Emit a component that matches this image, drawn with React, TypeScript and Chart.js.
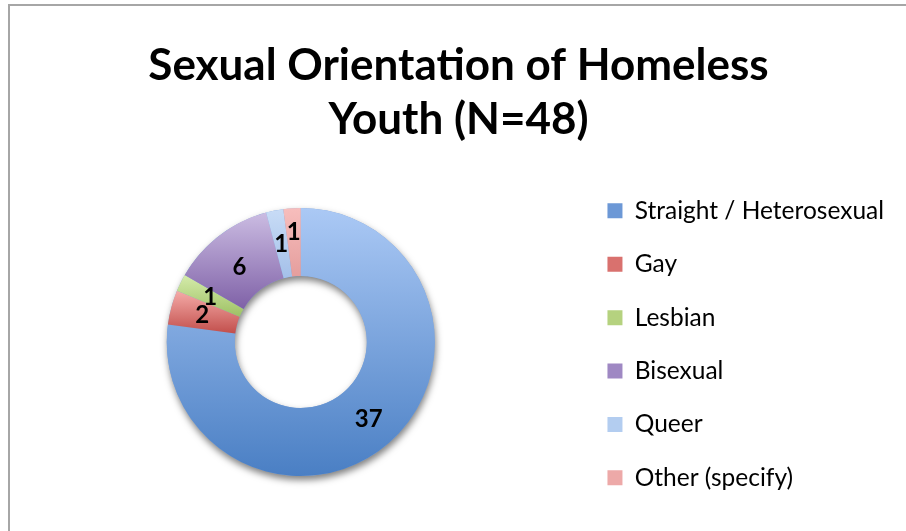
import { useEffect, useRef } from "react";
import { Chart, registerables } from "chart.js";

Chart.register(...registerables);

const categories = [
  "Straight / Heterosexual",
  "Gay",
  "Lesbian",
  "Bisexual",
  "Queer",
  "Other (specify)",
];
const counts = [37, 2, 1, 6, 1, 1];
const titleLines = ["Sexual Orientation of Homeless", "Youth (N=48)"];

const lightColors = ["#abc9f5", "#f5aca9", "#d5ebab", "#cbbce2", "#c8dcf6", "#f7bebd"];
const darkColors = ["#4a7fc4", "#c24f4c", "#9ec164", "#7f61a7", "#a4c0e9", "#e59e9d"];
const legendColors = ["#6c98d6", "#d9716e", "#b5d27f", "#9f88c3", "#b3cdf0", "#eda9a8"];

const labelAngleNudge = [0, 0, 0, -0.03, 0, 0];
const labelRadiusNudge = [3, 2, 1, -3, 0, 10];

const OUTER = 134;
const CUTOUT = "49.3%";

function sliceGradient(context: any) {
  const chart = context.chart;
  const i = context.dataIndex ?? 0;
  const area = chart.chartArea;
  if (!area || context.type !== "data") return legendColors[i];
  const total = counts.reduce((a, b) => a + b, 0);
  let before = 0;
  for (let k = 0; k < i; k++) before += counts[k];
  const start = -Math.PI / 2 + (before / total) * Math.PI * 2;
  const end = start + (counts[i] / total) * Math.PI * 2;
  const cy = (area.top + area.bottom) / 2;
  const inner = OUTER * 0.493;
  let top = Infinity;
  let bottom = -Infinity;
  for (let s = 0; s <= 48; s++) {
    const a = start + ((end - start) * s) / 48;
    for (const r of [OUTER, inner]) {
      const y = cy + Math.sin(a) * r;
      top = Math.min(top, y);
      bottom = Math.max(bottom, y);
    }
  }
  const g = chart.ctx.createLinearGradient(0, top, 0, bottom);
  g.addColorStop(0, lightColors[i]);
  g.addColorStop(1, darkColors[i]);
  return g;
}

const ringShadow = {
  id: "ringShadow",
  beforeDatasetsDraw(chart: any) {
    const meta = chart.getDatasetMeta(0);
    const arc = meta.data[0];
    if (!arc) return;
    const { x, y, outerRadius, innerRadius } = arc;
    const c = chart.ctx;
    c.save();
    c.shadowColor = "rgba(0,0,0,0.5)";
    c.shadowBlur = 7;
    c.shadowOffsetX = 1;
    c.shadowOffsetY = 4;
    c.beginPath();
    c.arc(x, y, outerRadius, 0, Math.PI * 2);
    c.arc(x, y, innerRadius, Math.PI * 2, 0, true);
    c.closePath();
    c.fillStyle = "#7fa3d8";
    c.fill();
    c.restore();
  },
};

const sliceLabels = {
  id: "sliceLabels",
  afterDatasetsDraw(chart: any) {
    const meta = chart.getDatasetMeta(0);
    const c = chart.ctx;
    c.save();
    c.font = "bold 24px Lato";
    c.fillStyle = "#000";
    c.textAlign = "center";
    c.textBaseline = "middle";
    meta.data.forEach((arc: any, i: number) => {
      const { x, y, startAngle, endAngle, innerRadius, outerRadius } = arc;
      const mid = (startAngle + endAngle) / 2 + labelAngleNudge[i];
      const r = (innerRadius + outerRadius) / 2 + labelRadiusNudge[i];
      c.fillText(String(counts[i]), x + Math.cos(mid) * r, y + Math.sin(mid) * r);
    });
    c.restore();
  },
};

export default function App() {
  const ref = useRef<HTMLCanvasElement>(null);
  useEffect(() => {
    if (!ref.current) return;
    const chart = new Chart(ref.current, {
      type: "doughnut",
      data: {
        labels: categories,
        datasets: [
          {
            data: counts,
            backgroundColor: sliceGradient as any,
            borderWidth: 0,
          },
        ],
      },
      options: {
        responsive: false,
        animation: false,
        radius: OUTER,
        cutout: CUTOUT,
        layout: { padding: { left: 23, right: 12, top: 0, bottom: 12 } },
        plugins: {
          title: {
            display: true,
            text: titleLines,
            color: "#000",
            font: { family: "Lato", size: 44, weight: "bold", lineHeight: "54px" },
            padding: { top: 39, bottom: 18 },
          },
          legend: {
            position: "right",
            align: "end",
            maxWidth: 318,
            labels: {
              color: "#000",
              font: { family: "Lato", size: 24.5 },
              boxWidth: 15,
              boxHeight: 15,
              padding: 28.9,
              generateLabels: () =>
                categories.map((t, i) => ({
                  text: t,
                  fillStyle: legendColors[i],
                  strokeStyle: legendColors[i],
                  lineWidth: 0,
                  hidden: false,
                  index: i,
                })),
            },
          },
          tooltip: { enabled: false },
        },
      } as any,
      plugins: [ringShadow, sliceLabels],
    });
    return () => chart.destroy();
  }, []);
  return (
    <div>
      <div
        style={{
          position: "fixed",
          left: 8,
          top: 4,
          width: 1000,
          height: 700,
          border: "2px solid #a6a6a6",
          boxSizing: "border-box",
        }}
      />
      <canvas
        ref={ref}
        width={906}
        height={531}
        style={{ position: "fixed", left: 0, top: 0, width: 906, height: 531 }}
      />
    </div>
  );
}
